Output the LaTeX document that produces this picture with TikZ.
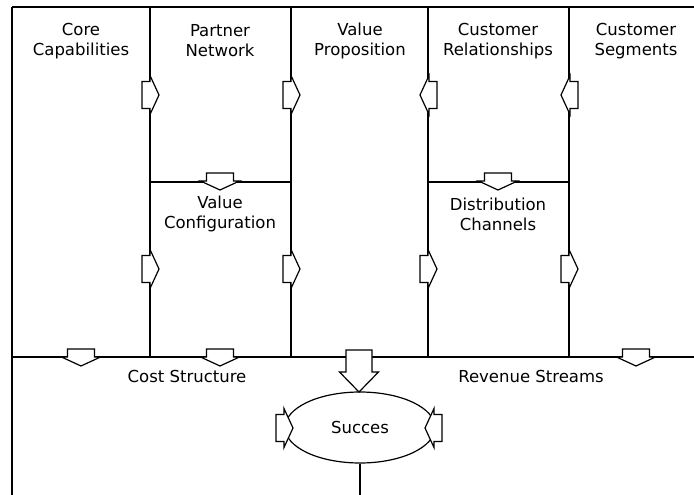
\documentclass[tikz,border=0pt]{standalone}
\usepackage{fontspec}
\setmainfont{DejaVu Sans}
\usetikzlibrary{shapes.geometric}
\begin{document}
\begin{tikzpicture}[x=1pt,y=-1pt,
  wall/.style={line width=1.3pt},
  lbl/.style={align=center, font=\fontsize{16.5}{20}\selectfont, inner sep=0pt},
  arrowline/.style={draw, fill=white, line width=1.2pt, line join=miter},
  % small block arrow: tail at the origin, pointing along +x
  flowarrow/.pic={
    \path[arrowline] (0,-13.5) -- (8,-13.5) -- (8,-19.5) -- (17,0)
      -- (8,19.5) -- (8,13.5) -- (0,13.5) -- cycle;
  },
  % large block arrow
  bigarrow/.pic={
    \path[arrowline] (0,-13) -- (22,-13) -- (22,-19.5) -- (42,0)
      -- (22,19.5) -- (22,13) -- (0,13) -- cycle;
  }]
\useasboundingbox (0,0) rectangle (694,495);

% frame and grid
\coordinate (tl) at (12,7);   \coordinate (tr) at (694,7);
\coordinate (bl) at (12,495); \coordinate (ml) at (12,357);
\coordinate (mr) at (694,357);
\coordinate (a1) at (150,7);  \coordinate (a2) at (150,357);
\coordinate (b1) at (291,7);  \coordinate (b2) at (291,357);
\coordinate (c1) at (428,7);  \coordinate (c2) at (428,357);
\coordinate (d1) at (569,7);  \coordinate (d2) at (569,357);
\coordinate (h1) at (150,182); \coordinate (h2) at (291,182);
\coordinate (h3) at (428,182); \coordinate (h4) at (569,182);
\coordinate (foot) at (360,495);

\draw[wall] (tl) -- (tr);
\draw[wall] (tl) -- (bl);
\draw[wall] (ml) -- (mr);
\draw[wall] (a1) -- (a2);
\draw[wall] (b1) -- (b2);
\draw[wall] (c1) -- (c2);
\draw[wall] (d1) -- (d2);
\draw[wall] (h1) -- (h2);
\draw[wall] (h3) -- (h4);

% block labels
\node[lbl] (core) at (81,41) {Core\\Capabilities};
\node[lbl] (partner) at (220,41) {Partner\\Network};
\node[lbl] (value) at (360,41) {Value\\Proposition};
\node[lbl] (rel) at (498,41) {Customer\\Relationships};
\node[lbl] (seg) at (636,41) {Customer\\Segments};
\node[lbl] (config) at (220,214) {Value\\Configuration};
\node[lbl] (chan) at (498,214) {Distribution\\Channels};
\node[lbl] (cost) at (187,376) {Cost Structure};
\node[lbl] (rev) at (531,376) {Revenue Streams};

% success ellipse
\node[ellipse, draw, line width=1.2pt, minimum width=150pt, minimum height=71pt,
  inner sep=0pt, font=\fontsize{16.5}{20}\selectfont] (succ) at (360,427.5) {Succes};
\draw[wall] (succ.south) -- (foot);

% flow arrows, upper row
\pic (f1) at (142,95) {flowarrow};
\pic (f2) at (283,95) {flowarrow};
\pic[rotate=180] (f3) at (437,95) {flowarrow};
\pic[rotate=180] (f4) at (578,95) {flowarrow};
% flow arrows, middle row
\pic (g1) at (142,269) {flowarrow};
\pic (g2) at (283,269) {flowarrow};
\pic (g3) at (420,269) {flowarrow};
\pic (g4) at (561,269) {flowarrow};
% downward arrows
\pic[rotate=-90] (k1) at (220,173) {flowarrow};
\pic[rotate=-90] (k2) at (498,173) {flowarrow};
\pic[rotate=-90] (m1) at (81,349) {flowarrow};
\pic[rotate=-90] (m2) at (220,349) {flowarrow};
\pic[rotate=-90] (m3) at (636,349) {flowarrow};
\pic[rotate=-90] (big) at (359,350) {bigarrow};
% arrows into the ellipse
\pic (e1) at (276,428) {flowarrow};
\pic[rotate=180] (e2) at (442,428) {flowarrow};
\end{tikzpicture}
\end{document}
